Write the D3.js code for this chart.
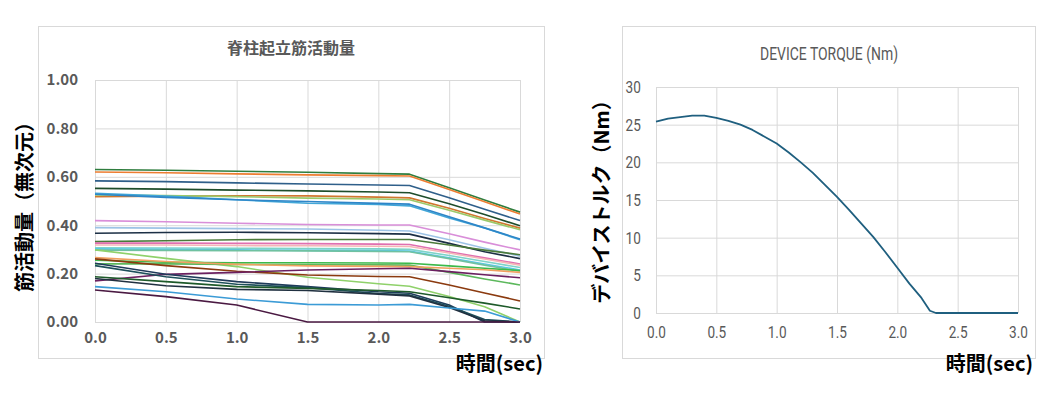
<!DOCTYPE html>
<html>
<head>
<meta charset="utf-8">
<script src="https://cdn.jsdelivr.net/npm/d3@7"></script>
<style>
  body { margin: 0; background: #fff; }
  svg { display: block; }
</style>
</head>
<body>
<div id="chart"></div>
<script>
// ---- data ----
// time samples of the muscle activity series (sec)
const muscleTime = [0, 0.5, 1.0, 1.5, 2.0, 2.22, 2.5, 2.75, 3.0];

// muscle activity (dimensionless), one array per trace
const muscleSeries = [
  [0.630, 0.627, 0.623, 0.619, 0.613, 0.611, 0.555, 0.504, 0.454],
  [0.620, 0.617, 0.612, 0.608, 0.605, 0.603, 0.548, 0.497, 0.446],
  [0.583, 0.580, 0.575, 0.570, 0.566, 0.564, 0.513, 0.466, 0.419],
  [0.552, 0.549, 0.545, 0.542, 0.537, 0.534, 0.489, 0.444, 0.398],
  [0.518, 0.520, 0.522, 0.521, 0.516, 0.513, 0.470, 0.428, 0.388],
  [0.525, 0.523, 0.518, 0.512, 0.508, 0.505, 0.462, 0.421, 0.381],
  [0.532, 0.520, 0.505, 0.491, 0.486, 0.480, 0.430, 0.388, 0.340],
  [0.528, 0.515, 0.505, 0.498, 0.490, 0.487, 0.435, 0.389, 0.343],
  [0.419, 0.414, 0.408, 0.403, 0.401, 0.401, 0.365, 0.330, 0.298],
  [0.390, 0.388, 0.386, 0.384, 0.379, 0.376, 0.340, 0.305, 0.272],
  [0.367, 0.370, 0.371, 0.369, 0.365, 0.363, 0.325, 0.290, 0.262],
  [0.332, 0.336, 0.340, 0.341, 0.341, 0.341, 0.318, 0.297, 0.278],
  [0.326, 0.326, 0.325, 0.324, 0.322, 0.320, 0.290, 0.265, 0.240],
  [0.318, 0.318, 0.316, 0.315, 0.313, 0.312, 0.285, 0.260, 0.235],
  [0.307, 0.306, 0.305, 0.303, 0.302, 0.300, 0.275, 0.250, 0.225],
  [0.302, 0.300, 0.298, 0.296, 0.295, 0.293, 0.265, 0.240, 0.215],
  [0.297, 0.296, 0.295, 0.294, 0.292, 0.290, 0.262, 0.235, 0.210],
  [0.298, 0.263, 0.229, 0.185, 0.158, 0.148, 0.105, 0.063, 0.000],
  [0.255, 0.247, 0.245, 0.245, 0.244, 0.243, 0.232, 0.222, 0.213],
  [0.240, 0.240, 0.238, 0.237, 0.236, 0.235, 0.205, 0.178, 0.153],
  [0.266, 0.250, 0.238, 0.232, 0.230, 0.229, 0.222, 0.216, 0.205],
  [0.261, 0.233, 0.210, 0.194, 0.188, 0.187, 0.153, 0.120, 0.087],
  [0.170, 0.197, 0.205, 0.215, 0.220, 0.222, 0.208, 0.195, 0.183],
  [0.243, 0.197, 0.167, 0.146, 0.125, 0.119, 0.070, 0.000, 0.000],
  [0.233, 0.187, 0.156, 0.142, 0.118, 0.112, 0.065, 0.010, 0.000],
  [0.187, 0.167, 0.146, 0.139, 0.130, 0.125, 0.100, 0.078, 0.054],
  [0.180, 0.150, 0.135, 0.130, 0.115, 0.108, 0.060, 0.005, 0.000],
  [0.146, 0.125, 0.095, 0.073, 0.070, 0.073, 0.058, 0.045, 0.000],
  [0.132, 0.105, 0.070, 0.000, 0.000, 0.000, 0.000, 0.000, 0.000]
];

const muscleColors = [
  "#2f7d3e", "#ed7d31", "#2f5f8a", "#1e4d2b", "#d0772f", "#9bc96a", "#41a7d8",
  "#2e86c8", "#d98ed9", "#9dc3e6", "#1c2f45", "#4a7a3a", "#e06fb0", "#f4b6b6",
  "#7fd3c8", "#5bc8e8", "#70c1a0", "#8fd16a", "#3cb94a", "#5cb85c", "#f0a060",
  "#8b3a0f", "#6b2060", "#1f3b5a", "#1d4f5a", "#1e5a2a", "#203040", "#3b9bd6",
  "#4a1942"
];

const muscleXTicks = [0, 0.5, 1.0, 1.5, 2.0, 2.5, 3.0];
const muscleYTicks = [0, 0.2, 0.4, 0.6, 0.8, 1.0];

// device torque (Nm)
const torqueTime = [0, 0.1, 0.2, 0.3, 0.4, 0.5, 0.6, 0.7, 0.8, 0.9, 1.0, 1.1, 1.2, 1.3,
  1.4, 1.5, 1.6, 1.7, 1.8, 1.9, 2.0, 2.1, 2.2, 2.27, 2.32, 2.5, 3.0];
const torqueValue = [25.4, 25.8, 26.0, 26.2, 26.2, 25.9, 25.5, 25.0, 24.3, 23.4, 22.5,
  21.3, 20.0, 18.6, 17.0, 15.4, 13.7, 11.9, 10.1, 8.1, 6.0, 3.9, 2.0, 0.3, 0, 0, 0];

const torqueXTicks = [0, 0.5, 1.0, 1.5, 2.0, 2.5, 3.0];
const torqueYTicks = [0, 5, 10, 15, 20, 25, 30];

// ---- drawing ----
const grid = "#d9d9d9";
const gray = "#595959";
const jp = "'Noto Sans CJK JP', 'Noto Sans', sans-serif";
const narrow = "Roboto, 'Liberation Sans', sans-serif";

const svg = d3.select("#chart").append("svg")
  .attr("width", 1055)
  .attr("height", 397);

// left chart
const left = svg.append("g");
left.append("rect")
  .attr("x", 38.5).attr("y", 26.5)
  .attr("width", 506).attr("height", 332)
  .attr("fill", "#fff").attr("stroke", grid);

const mx = d3.scaleLinear().domain([0, 3]).range([95, 520]);
const my = d3.scaleLinear().domain([0, 1]).range([322, 80]);

const mxAxis = left.append("g")
  .attr("transform", "translate(0," + my(0) + ")")
  .call(d3.axisBottom(mx).tickValues(muscleXTicks)
    .tickFormat(d3.format(".1f"))
    .tickSize(-(my(0) - my(1))).tickPadding(10));

const myAxis = left.append("g")
  .attr("transform", "translate(" + mx(0) + ",0)")
  .call(d3.axisLeft(my).tickValues(muscleYTicks)
    .tickFormat(d3.format(".2f"))
    .tickSize(-(mx(3) - mx(0))).tickPadding(17));

[mxAxis, myAxis].forEach(a => {
  a.select(".domain").remove();
  a.selectAll(".tick line").attr("stroke", grid);
  a.selectAll(".tick text")
    .attr("fill", gray)
    .style("font-family", jp)
    .style("font-weight", "bold")
    .style("font-size", "15px");
});

const mline = d3.line()
  .x((d, i) => mx(muscleTime[i]))
  .y(d => my(d));

left.append("g")
  .selectAll("path")
  .data(muscleSeries)
  .join("path")
  .attr("d", mline)
  .attr("fill", "none")
  .attr("stroke", (d, i) => muscleColors[i])
  .attr("stroke-width", 1.6)
  .attr("stroke-linejoin", "round");

left.append("text")
  .attr("x", 291).attr("y", 54)
  .attr("text-anchor", "middle")
  .attr("fill", gray)
  .style("font-family", jp)
  .style("font-weight", "bold")
  .style("font-size", "16px")
  .text("脊柱起立筋活動量");

left.append("text")
  .attr("transform", "translate(32,202) rotate(-90)")
  .attr("text-anchor", "middle")
  .attr("fill", "#000")
  .style("font-family", jp)
  .style("font-weight", "bold")
  .style("font-size", "20px")
  .text("筋活動量（無次元）");

left.append("text")
  .attr("x", 543).attr("y", 371)
  .attr("text-anchor", "end")
  .attr("fill", "#000")
  .style("font-family", jp)
  .style("font-weight", "bold")
  .style("font-size", "20px")
  .text("時間(sec)");

// right chart
const right = svg.append("g");
right.append("rect")
  .attr("x", 622.5).attr("y", 26.5)
  .attr("width", 413).attr("height", 332)
  .attr("fill", "#fff").attr("stroke", grid);

const tx = d3.scaleLinear().domain([0, 3]).range([656, 1018]);
const ty = d3.scaleLinear().domain([0, 30]).range([313, 87]);

const txAxis = right.append("g")
  .attr("transform", "translate(0," + ty(0) + ")")
  .call(d3.axisBottom(tx).tickValues(torqueXTicks)
    .tickFormat(d3.format(".1f"))
    .tickSize(-(ty(0) - ty(30))).tickPadding(13));

const tyAxis = right.append("g")
  .attr("transform", "translate(" + tx(0) + ",0)")
  .call(d3.axisLeft(ty).tickValues(torqueYTicks)
    .tickSize(-(tx(3) - tx(0))).tickPadding(19));

[txAxis, tyAxis].forEach(a => {
  a.select(".domain").remove();
  a.selectAll(".tick line").attr("stroke", grid);
  a.selectAll(".tick text")
    .attr("fill", gray)
    .attr("transform", "scale(0.8,1)")
    .style("font-family", narrow)
    .style("font-size", "17px");
});

const tline = d3.line()
  .x((d, i) => tx(torqueTime[i]))
  .y(d => ty(d));

right.append("path")
  .datum(torqueValue)
  .attr("d", tline)
  .attr("fill", "none")
  .attr("stroke", "#1f5f7f")
  .attr("stroke-width", 1.8)
  .attr("stroke-linejoin", "round");

right.append("text")
  .attr("x", 760).attr("y", 60)
  .attr("textLength", 138)
  .attr("lengthAdjust", "spacingAndGlyphs")
  .attr("fill", gray)
  .style("font-family", narrow)
  .style("font-size", "19px")
  .text("DEVICE  TORQUE (Nm)");

right.append("text")
  .attr("transform", "translate(609,197) rotate(-90)")
  .attr("text-anchor", "middle")
  .attr("fill", "#000")
  .style("font-family", jp)
  .style("font-weight", "bold")
  .style("font-size", "20px")
  .text("デバイストルク（Nm）");

right.append("text")
  .attr("x", 1033).attr("y", 371)
  .attr("text-anchor", "end")
  .attr("fill", "#000")
  .style("font-family", jp)
  .style("font-weight", "bold")
  .style("font-size", "20px")
  .text("時間(sec)");
</script>
</body>
</html>
